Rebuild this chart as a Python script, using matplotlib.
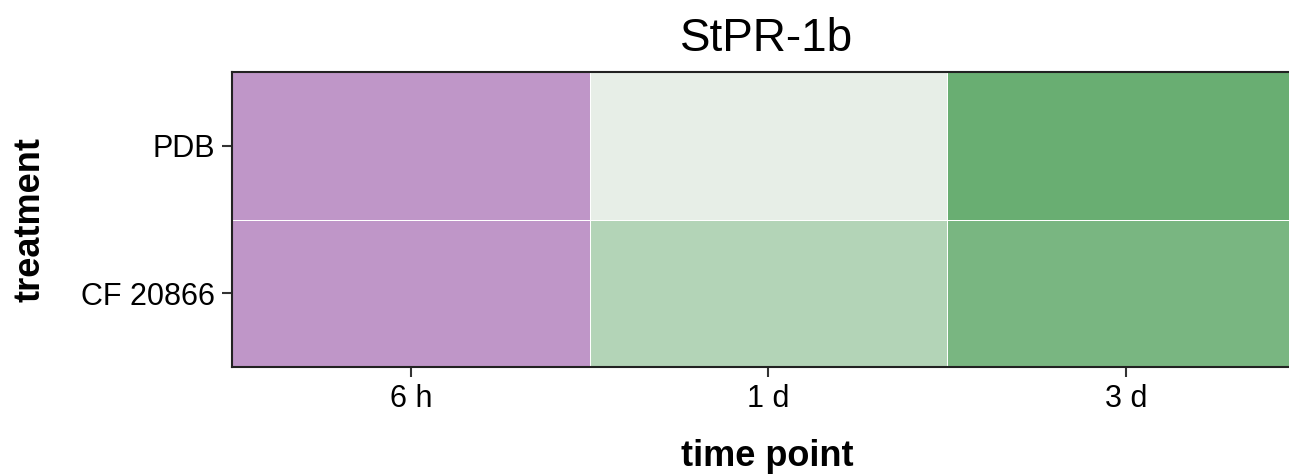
import matplotlib
matplotlib.use("Agg")
import matplotlib.pyplot as plt
from matplotlib.colors import LinearSegmentedColormap
import numpy as np

plt.rcParams['font.family'] = ['Liberation Sans', 'DejaVu Sans']

# heatmap data (relative expression)
time_points = ['6 h', '1 d', '3 d']
treatments = ['CF 20866', 'PDB']
values = np.array([
    [-1.0, 0.41, 0.87],   # CF 20866
    [-1.0, 0.00, 1.00],   # PDB
])

cmap = LinearSegmentedColormap.from_list(
    'prgn_soft', ['#BF96C8', '#E7EEE7', '#69AE72'])

fig = plt.figure(figsize=(12.89, 4.76), dpi=100)
ax = fig.add_axes([232 / 1289, 109 / 476, 1072.5 / 1289, 295 / 476])

ax.pcolormesh(np.arange(len(time_points) + 1) - 0.5,
              np.arange(len(treatments) + 1) - 0.5,
              values, cmap=cmap, vmin=-1, vmax=1,
              edgecolors='white', linewidth=0.6)

ax.set_xlim(-0.5, len(time_points) - 0.5)
ax.set_ylim(-0.5, len(treatments) - 0.5)
ax.set_xticks(range(len(time_points)))
ax.set_xticklabels(time_points)
ax.set_yticks(range(len(treatments)))
ax.set_yticklabels(treatments)
ax.tick_params(length=7, width=1.5, color='#333333', labelsize=22,
               labelcolor='black', pad=5)
for s in ax.spines.values():
    s.set_linewidth(1.5)
    s.set_color('#222222')

fig.text(767 / 1289, 1 - 39 / 476, 'StPR-1b', ha='center', va='center', fontsize=33)
fig.text(767 / 1289, 1 - 457 / 476, 'time point', ha='center', va='center',
         fontsize=26, fontweight='bold')
fig.text(30 / 1289, 1 - 219.5 / 476, 'treatment', ha='center', va='center',
         rotation=90, fontsize=26, fontweight='bold')

fig.savefig('out.png', dpi=100)
